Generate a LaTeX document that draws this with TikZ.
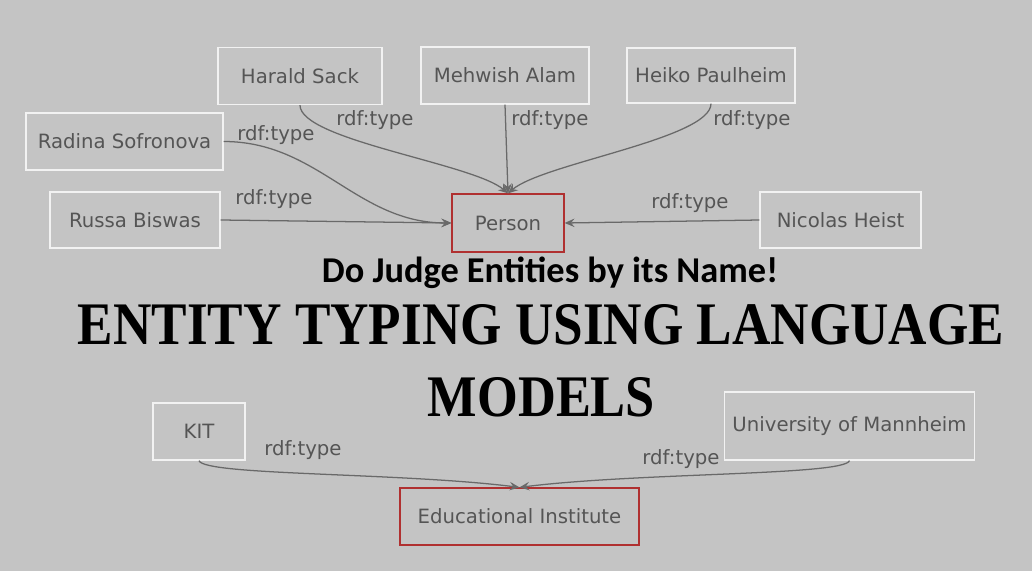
\documentclass[tikz,border=0pt]{standalone}
\usepackage{fontspec}
\setmainfont{DejaVu Sans}
\newfontfamily\subfont{Carlito}
\newfontfamily\headfont{Liberation Serif}
\usetikzlibrary{arrows.meta}
\definecolor{slidebg}{RGB}{196,196,196}
\definecolor{boxline}{RGB}{242,242,242}
\definecolor{textgray}{RGB}{85,85,85}
\definecolor{arrowgray}{RGB}{105,105,105}
\definecolor{classred}{RGB}{176,48,48}

\begin{document}
\begin{tikzpicture}[
    x=0.025cm, y=-0.025cm,
    entity/.style={draw=boxline, line width=0.9pt, text=textgray, font=\fontsize{14}{16}\selectfont, minimum height=1.425cm, inner sep=0pt},
    class/.style={entity, draw=classred},
    rel/.style={text=textgray, font=\fontsize{14}{16}\selectfont, inner sep=0pt},
    arrow/.style={-{Stealth[length=7pt, width=6pt, inset=2.5pt]}, draw=arrowgray, line width=0.9pt}
]
% Background
\fill[slidebg] (0,0) rectangle (1032,571);
\useasboundingbox (0,0) rectangle (1032,571);

% Persons
\node[entity, minimum width=4.1cm] (harald) at (300,76) {Harald Sack};
\node[entity, minimum width=4.2cm] (mehwish) at (505,75.5) {Mehwish Alam};
\node[entity, minimum width=4.2cm, minimum height=1.375cm] (heiko) at (711,75.5) {Heiko Paulheim};
\node[entity, minimum width=4.925cm] (radina) at (124.5,141.5) {Radina Sofronova};
\node[entity, minimum width=4.25cm, minimum height=1.4cm] (russa) at (135,220) {Russa Biswas};
\node[entity, minimum width=4.025cm, minimum height=1.4cm] (nicolas) at (840.5,220) {Nicolas Heist};

% Class Person
\node[class, minimum width=2.8cm, minimum height=1.45cm] (person) at (508,223) {Person};

% Title
\node (subtitle) at (550,273) {\resizebox{11.4cm}{!}{\subfont\bfseries Do Judge Entities by its Name!}};
\node[inner sep=0pt] (title1) at (541,325) {\resizebox{23.15cm}{1.0cm}{\headfont\bfseries ENTITY TYPING USING LANGUAGE}};
\node[inner sep=0pt] (title2) at (541.5,397.5) {\resizebox{5.675cm}{0.975cm}{\headfont\bfseries MODELS}};

% Institutes
\node[entity, minimum width=2.3cm] (kit) at (199,431.5) {KIT};
\node[entity, minimum width=6.25cm, minimum height=1.7cm] (mannheim) at (849.5,426) {University of Mannheim};
\node[class, minimum width=5.975cm] (educ) at (519.5,516.5) {Educational Institute};

% Arrows
\draw[arrow] (harald.south) .. controls +(0,35) and +(-35,-30) .. (person.north);
\draw[arrow] (mehwish.south) -- (person.north);
\draw[arrow] (heiko.south) .. controls +(0,35) and +(35,-30) .. (person.north);
\draw[arrow] (radina.east) to[out=0, in=180] (person.west);
\draw[arrow] (russa.east) -- (person.west);
\draw[arrow] (nicolas.west) -- (person.east);
\draw[arrow] (kit.south) .. controls +(5,15) and +(-120,-15) .. (educ.north);
\draw[arrow] (mannheim.south) .. controls +(-5,15) and +(120,-15) .. (educ.north);

% Edge labels
\node[rel] (l-harald) at (375,120) {rdf:type};
\node[rel] (l-mehwish) at (550,120) {rdf:type};
\node[rel] (l-heiko) at (752,120) {rdf:type};
\node[rel] (l-radina) at (276,135) {rdf:type};
\node[rel] (l-russa) at (274,199) {rdf:type};
\node[rel] (l-nicolas) at (690,203) {rdf:type};
\node[rel] (l-kit) at (303,450) {rdf:type};
\node[rel] (l-mannheim) at (681,459) {rdf:type};
\end{tikzpicture}
\end{document}
